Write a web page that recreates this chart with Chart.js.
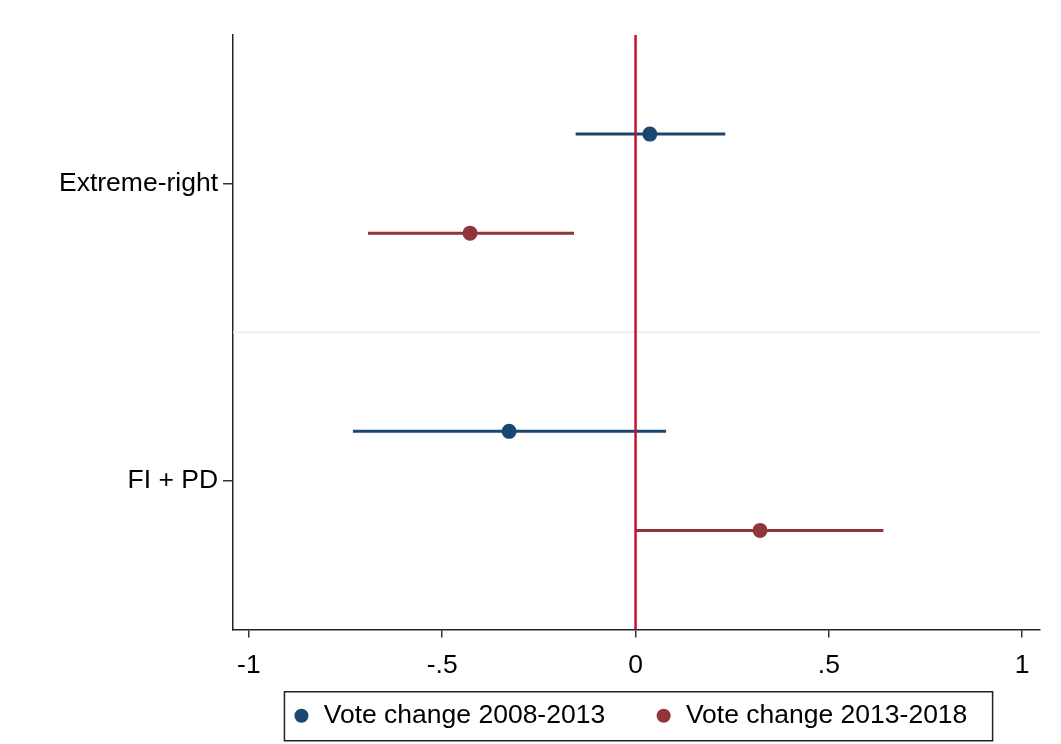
<!DOCTYPE html>
<html>
<head>
<meta charset="utf-8">
<script src="https://cdn.jsdelivr.net/npm/chart.js@4.4.1/dist/chart.umd.min.js"></script>
<style>
  html, body { margin: 0; padding: 0; background: #fff; }
  #wrap { width: 1061px; height: 744px; }
</style>
</head>
<body>
<div id="wrap"><canvas id="c"></canvas></div>
<script>
// categories sit at y = 1.5 and 4.5 on a 0..6 reversed scale
var categories = ['Extreme-right', 'FI + PD'];
var categoryPos = [1.5, 4.5];

var seriesNames = ['Vote change 2008-2013', 'Vote change 2013-2018'];
var seriesColors = ['#1a476f', '#90353b'];
// one value per category, per series
var estimates = [[0.037, -0.327], [-0.428, 0.322]];
var lowerCI = [[-0.155, -0.731], [-0.692, 0.0]];
var upperCI = [[0.232, 0.079], [-0.159, 0.641]];
// row offset of each series inside a category
var seriesOffset = [-0.5, 0.5];

var xTicks = [-1, -0.5, 0, 0.5, 1];
var xMin = -1.041, xMax = 1.046;
var yMin = 0, yMax = 6;
var separatorY = 3;

var font = "'Liberation Sans', Arial, sans-serif";
var fontSize = 26.5;

function fmtTick(v) {
  if (v === 0) return '0';
  return String(v).replace('0.', '.');
}

var datasets = [];

// point markers (legend items)
seriesNames.forEach(function(name, s) {
  datasets.push({
    type: 'scatter',
    label: name,
    data: categoryPos.map(function(p, i) { return {x: estimates[s][i], y: p + seriesOffset[s]}; }),
    backgroundColor: seriesColors[s],
    borderColor: seriesColors[s],
    borderWidth: 0,
    pointRadius: 7.5,
    pointHoverRadius: 7.5,
    order: 0
  });
});

// zero reference line
datasets.push({
  type: 'line',
  label: 'zero',
  data: [{x: 0, y: yMin}, {x: 0, y: yMax}],
  borderColor: '#c8102e',
  borderWidth: 2.5,
  pointRadius: 0,
  order: 1
});

// confidence intervals
seriesNames.forEach(function(name, s) {
  categoryPos.forEach(function(p, i) {
    datasets.push({
      type: 'line',
      label: 'ci',
      data: [{x: lowerCI[s][i], y: p + seriesOffset[s]}, {x: upperCI[s][i], y: p + seriesOffset[s]}],
      borderColor: seriesColors[s],
      borderWidth: 3,
      pointRadius: 0,
      order: 2
    });
  });
});

// separator between categories
datasets.push({
  type: 'line',
  label: 'sep',
  data: [{x: xMin, y: separatorY}, {x: xMax, y: separatorY}],
  borderColor: '#e8f0f2',
  borderWidth: 2,
  pointRadius: 0,
  order: 3
});

var legendBox = {
  id: 'legendBox',
  afterDraw: function(chart) {
    var lg = chart.legend;
    if (!lg || !lg.legendHitBoxes || !lg.legendHitBoxes.length) return;
    var hb = lg.legendHitBoxes;
    var left = hb[0].left - 8;
    var last = hb[hb.length - 1];
    var right = last.left + last.width + 12;
    var cy = hb[0].top + hb[0].height / 2;
    var ctx = chart.ctx;
    ctx.save();
    ctx.strokeStyle = '#222';
    ctx.lineWidth = 1.5;
    ctx.strokeRect(left, cy - 24, right - left, 49);
    ctx.restore();
  }
};

new Chart(document.getElementById('c'), {
  type: 'scatter',
  data: { datasets: datasets },
  plugins: [legendBox],
  options: {
    responsive: true,
    maintainAspectRatio: false,
    animation: false,
    layout: { padding: { left: 54, right: 21, top: 35, bottom: 5 } },
    plugins: {
      tooltip: { enabled: false },
      legend: {
        position: 'bottom',
        fullSize: false,
        labels: {
          generateLabels: function(chart) {
            var items = Chart.defaults.plugins.legend.labels.generateLabels(chart)
              .filter(function(item) { return seriesNames.indexOf(item.text) >= 0; });
            // widen the gap between entries, leave room on the right of the box
            items.forEach(function(item, i) {
              item.text = item.text + (i < items.length - 1 ? '\u2003' : '\u2002');
            });
            return items;
          },
          usePointStyle: true,
          pointStyle: 'circle',
          boxWidth: 18,
          boxHeight: 10,
          padding: 23,
          color: '#000',
          font: { family: font, size: fontSize }
        }
      }
    },
    scales: {
      x: {
        type: 'linear',
        min: xMin,
        max: xMax,
        afterBuildTicks: function(axis) {
          axis.ticks = xTicks.map(function(v) { return {value: v}; });
        },
        afterFit: function(axis) { axis.height = 50; },
        ticks: {
          callback: function(v) { return fmtTick(v); },
          color: '#000',
          padding: 12,
          maxRotation: 0,
          font: { family: font, size: fontSize }
        },
        grid: { drawOnChartArea: false, tickLength: 8, color: '#333', lineWidth: 1.5 },
        border: { display: true, color: '#222', width: 1.5 }
      },
      y: {
        type: 'linear',
        min: yMin,
        max: yMax,
        reverse: true,
        afterBuildTicks: function(axis) {
          axis.ticks = categoryPos.map(function(v) { return {value: v}; });
        },
        ticks: {
          callback: function(v) {
            var i = categoryPos.indexOf(v);
            return i >= 0 ? categories[i] : '';
          },
          color: '#000',
          padding: 5,
          font: { family: font, size: fontSize }
        },
        grid: { drawOnChartArea: false, tickLength: 10, color: '#333', lineWidth: 1.5 },
        border: { display: true, color: '#222', width: 1.5 }
      }
    }
  }
});
</script>
</body>
</html>
